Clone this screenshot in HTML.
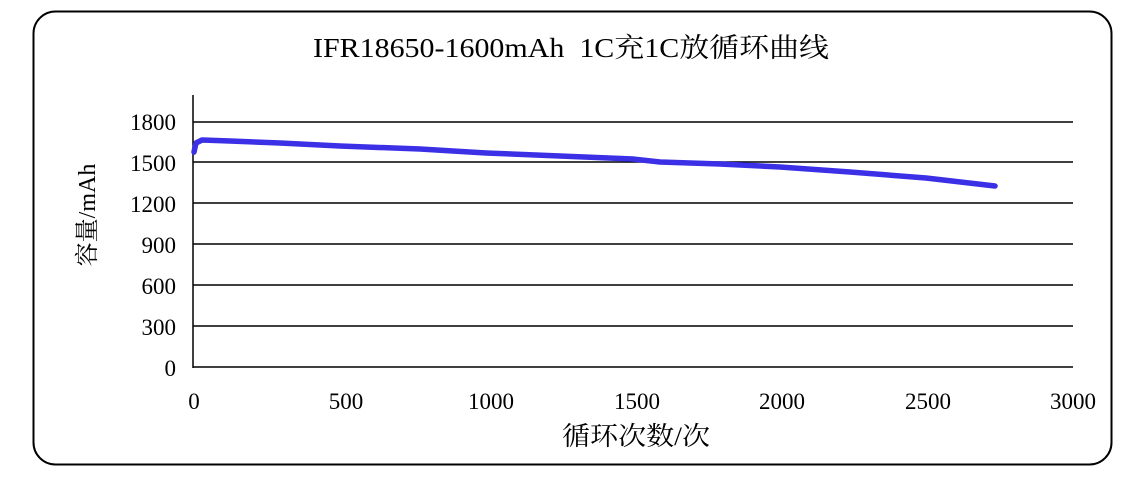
<!DOCTYPE html>
<html><head><meta charset="utf-8"><style>body{margin:0;background:#fff}</style></head><body>
<svg width="1142" height="475" xmlns="http://www.w3.org/2000/svg" font-family="'Liberation Serif','Noto Serif CJK SC',serif">
<rect x="33.5" y="11.5" width="1078" height="453" rx="22" fill="#fff" stroke="#000" stroke-width="2"/>
<text x="313" y="57" font-size="27" textLength="516" lengthAdjust="spacingAndGlyphs" xml:space="preserve">IFR18650-1600mAh  1C充1C放循环曲线</text>
<g stroke="#000" stroke-width="1.5">
<line x1="193" y1="95" x2="193" y2="368"/>
<line x1="193" y1="122" x2="1073" y2="122"/>
<line x1="193" y1="162" x2="1073" y2="162"/>
<line x1="193" y1="203" x2="1073" y2="203"/>
<line x1="193" y1="244" x2="1073" y2="244"/>
<line x1="193" y1="285" x2="1073" y2="285"/>
<line x1="193" y1="326" x2="1073" y2="326"/>
<line x1="193" y1="367" x2="1073" y2="367"/>
</g>
<g font-size="23" text-anchor="end">
<text x="176" y="130">1800</text><text x="176" y="171">1500</text><text x="176" y="212">1200</text>
<text x="176" y="253">900</text><text x="176" y="294">600</text><text x="176" y="335">300</text><text x="176" y="376">0</text>
</g>
<g font-size="23" text-anchor="middle">
<text x="194" y="409">0</text><text x="346" y="409">500</text><text x="491" y="409">1000</text>
<text x="637" y="409">1500</text><text x="782" y="409">2000</text><text x="928" y="409">2500</text><text x="1073" y="409">3000</text>
</g>
<text x="562" y="445" font-size="26" textLength="148" lengthAdjust="spacingAndGlyphs">循环次数/次</text>
<text transform="translate(95,215) rotate(-90)" font-size="24" text-anchor="middle">容量/mAh</text>
<polyline fill="none" stroke="#3b30e6" stroke-width="5.5" stroke-linecap="round" stroke-linejoin="round"
points="194,152 196,143 202,140 230,141 280,143 340,146 420,149 486,153 560,156 633,159 660,162 720,164 780,167 850,172 926,178 995,186"/>
</svg>
</body></html>
